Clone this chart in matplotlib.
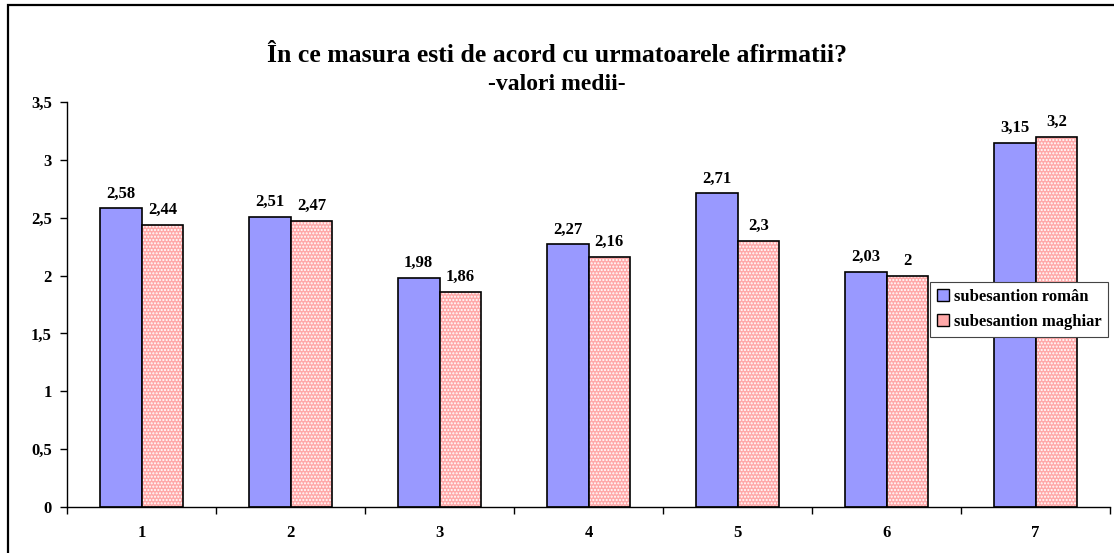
import numpy as np
import matplotlib.pyplot as plt
from matplotlib.patches import Rectangle, Patch

# data
categories = ['1', '2', '3', '4', '5', '6', '7']
roman = [2.58, 2.51, 1.98, 2.27, 2.71, 2.03, 3.15]
maghiar = [2.44, 2.47, 1.86, 2.16, 2.30, 2.00, 3.20]
series_names = ['subesantion român', 'subesantion maghiar']
y_ticks = [0, 0.5, 1, 1.5, 2, 2.5, 3, 3.5]

plt.rcParams['font.family'] = ['Liberation Serif', 'DejaVu Serif']
plt.rcParams['font.weight'] = 'bold'

fig = plt.figure(figsize=(11.14, 5.53), dpi=100)
ax = fig.add_axes([67/1114, 1-507/553, (1110-67)/1114, (507-102)/553])

blue = '#9999ff'
pink = '#ffa8a8'
w = 0.28
x = np.arange(len(categories)) + 0.5
fs = 12

ax.bar(x - w/2, roman, w, color=blue, edgecolor='black', linewidth=1.2, zorder=2)
# pink dotted pattern: fill with white hatch, then black outline on top
ax.bar(x + w/2, maghiar, w, color=pink, edgecolor='white', hatch='.....',
       linewidth=0, zorder=2)
ax.bar(x + w/2, maghiar, w, fill=False, edgecolor='black', linewidth=1.2, zorder=3)

def fmt(v):
    s = ('%.2f' % v).rstrip('0').rstrip('.')
    return s.replace('.', ',')

for xi, v in zip(x - w/2, roman):
    ax.text(xi, v + 0.06, fmt(v), ha='center', va='bottom', fontsize=fs, fontweight='bold')
for xi, v in zip(x + w/2, maghiar):
    ax.text(xi, v + 0.06, fmt(v), ha='center', va='bottom', fontsize=fs, fontweight='bold')

ax.set_xlim(0, len(categories))
ax.set_ylim(0, 3.5)
ax.set_yticks(y_ticks)
ax.set_yticklabels([fmt(t) for t in y_ticks], fontsize=fs, fontweight='bold')
ax.set_xticks(np.arange(len(categories) + 1))
ax.set_xticklabels([])
ax.set_xticks(x, minor=True)
ax.set_xticklabels(categories, minor=True, fontsize=fs, fontweight='bold')
ax.tick_params(axis='x', which='minor', length=0, pad=13)
ax.tick_params(axis='x', which='major', length=5, direction='out', width=1)
ax.tick_params(axis='y', length=5, direction='out', width=1, pad=6)
for s in ['top', 'right']:
    ax.spines[s].set_visible(False)
for s in ['left', 'bottom']:
    ax.spines[s].set_linewidth(1)

handles = [Patch(facecolor=blue, edgecolor='black', label=series_names[0]),
           Patch(facecolor=pink, edgecolor='black', label=series_names[1])]
leg = ax.legend(handles=handles, loc='upper left',
                bbox_to_anchor=(930/1114, 1-282/553), bbox_transform=fig.transFigure,
                borderaxespad=0, fancybox=False, framealpha=1, edgecolor='#444444',
                prop={'size': fs, 'weight': 'bold'}, handlelength=0.75, handleheight=0.75,
                handletextpad=0.3, borderpad=0.4, labelspacing=0.55)
leg.get_frame().set_linewidth(0.8)
leg.set_zorder(5)

fig.text(0.5, 1-56/553, 'În ce masura esti de acord cu urmatoarele afirmatii?',
         ha='center', va='center', fontsize=18.5, fontweight='bold')
fig.text(0.5, 1-85/553, '-valori medii-', ha='center', va='center',
         fontsize=17, fontweight='bold')

# outer frame, cut off at right and bottom
fig.patches.append(Rectangle((7.5/1114, -0.05), 1.2, 1 - 4.5/553 + 0.05,
                             transform=fig.transFigure, fill=False,
                             edgecolor='black', linewidth=1.6))

fig.savefig('out.png', dpi=100)
